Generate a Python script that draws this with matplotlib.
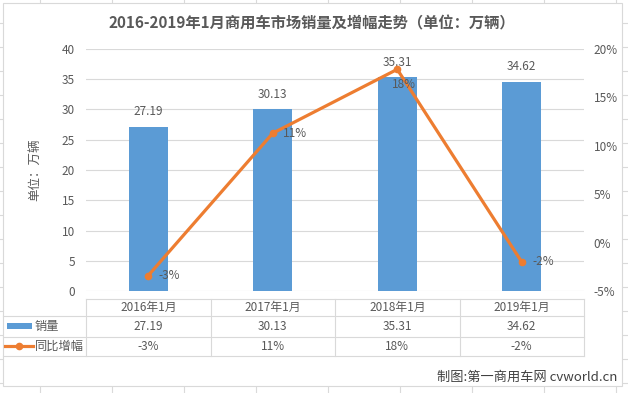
import matplotlib
matplotlib.use("Agg")
import matplotlib.pyplot as plt
from matplotlib.lines import Line2D
from matplotlib.patches import Rectangle
from matplotlib.transforms import blended_transform_factory

plt.rcParams['font.family'] = ['Noto Sans CJK SC', 'DejaVu Sans']

# data
categories = ['2016年1月', '2017年1月', '2018年1月', '2019年1月']
sales = [27.19, 30.13, 35.31, 34.62]
growth = [-3.4, 11.3, 17.9, -2.0]
sales_name = '销量'
growth_name = '同比增幅'
title = '2016-2019年1月商用车市场销量及增幅走势（单位：万辆）'
ylabel = '单位：万辆'
credit = '制图:第一商用车网 cvworld.cn'

W, H = 628, 393
BLUE = '#5B9BD5'
ORANGE = '#ED7D31'
TXT = '#595959'
GRID = '#D9D9D9'
FS = 8.5


def fx(px):
    return px / W


def fy(py):
    return 1 - py / H


fig = plt.figure(figsize=(W / 100, H / 100), dpi=100)

# spreadsheet grid behind the chart
for x in range(40, W, 72):
    fig.add_artist(Line2D([fx(x), fx(x)], [0, 1], color='#DADADA', lw=0.8, zorder=0))
for y in range(23, H, 24):
    fig.add_artist(Line2D([0, 1], [fy(y), fy(y)], color='#DADADA', lw=0.8, zorder=0))
fig.add_artist(Rectangle((fx(3), fy(386)), fx(619), (383) / H, transform=fig.transFigure,
                         facecolor='white', edgecolor=GRID, lw=0.8, zorder=0.5))

ax = fig.add_axes([fx(86), fy(291), fx(498), 242 / H])
ax.set_zorder(2)
ax.patch.set_alpha(0)
xs = list(range(len(categories)))

bars = ax.bar(xs, sales, width=0.31, color=BLUE, zorder=2)
for b, v in zip(bars, sales):
    ax.annotate(f'{v:.2f}', (b.get_x() + b.get_width() / 2, v), xytext=(0, 10.5),
                textcoords='offset points', ha='center', va='center', fontsize=FS, color=TXT)

ax.set_xlim(-0.5, len(categories) - 0.5)
ax.set_ylim(0, 40)
ax.set_yticks(range(0, 41, 5))
ax.set_xticks([])
ax.grid(axis='y', color=GRID, lw=0.8, zorder=0)
ax.set_axisbelow(True)
for s in ax.spines.values():
    s.set_visible(False)
ax.tick_params(axis='y', length=0, pad=8, labelsize=FS, labelcolor=TXT)
ax.set_ylabel(ylabel, fontsize=9, color=TXT, labelpad=15)

ax2 = ax.twinx()
ax2.plot(xs, growth, color=ORANGE, lw=2.3, marker='o', ms=4.5, zorder=3)
ax2.set_ylim(-5, 20)
ax2.set_yticks(range(-5, 21, 5))
ax2.set_yticklabels([f'{t}%' for t in range(-5, 21, 5)])
for s in ax2.spines.values():
    s.set_visible(False)
ax2.tick_params(axis='y', length=0, pad=7, labelsize=FS, labelcolor=TXT)
for i, v in enumerate(growth):
    if v == max(growth):
        off, ha = (5, -11), 'center'
    else:
        off, ha = (7.5, 0), 'left'
    ax2.annotate(f'{v:.0f}%', (i, v), xytext=off, textcoords='offset points',
                 ha=ha, va='center', fontsize=FS, color=TXT)

fig.text(fx(312), fy(23), title, ha='center', va='center', fontsize=11,
         fontweight='bold', color=TXT)

# data table under the plot
tr = blended_transform_factory(ax.transData, fig.transFigure)
edges = [i - 0.5 for i in range(len(categories) + 1)]
rows = [299, 316, 336.5, 356]
fig.add_artist(Line2D([fx(86), fx(584)], [fy(rows[0])] * 2, color=GRID, lw=0.8))
for r in rows[1:]:
    fig.add_artist(Line2D([fx(3), fx(584)], [fy(r)] * 2, color=GRID, lw=0.8))
for e in edges:
    ax.add_artist(Line2D([e, e], [fy(rows[0]), fy(rows[-1])], transform=tr,
                         color=GRID, lw=0.8, clip_on=False))
yc = [(rows[k] + rows[k + 1]) / 2 for k in range(3)]
for i, c in enumerate(categories):
    ax.text(i, fy(yc[0]), c, transform=tr, ha='center', va='center', fontsize=FS, color=TXT)
    ax.text(i, fy(yc[1]), f'{sales[i]:.2f}', transform=tr, ha='center', va='center',
            fontsize=FS, color=TXT)
    ax.text(i, fy(yc[2]), f'{growth[i]:.0f}%', transform=tr, ha='center', va='center',
            fontsize=FS, color=TXT)

fig.add_artist(Rectangle((fx(7), fy(yc[1] + 3)), fx(25), 6 / H, transform=fig.transFigure,
                         facecolor=BLUE, edgecolor='none'))
fig.add_artist(Line2D([fx(5), fx(33)], [fy(yc[2])] * 2, color=ORANGE, lw=2.3))
fig.add_artist(Line2D([fx(19)], [fy(yc[2])], color=ORANGE, marker='o', ms=4.5))
fig.text(fx(35), fy(yc[1]), sales_name, ha='left', va='center', fontsize=8.8, color=TXT)
fig.text(fx(35), fy(yc[2]), growth_name, ha='left', va='center', fontsize=8.8, color=TXT)

fig.text(fx(617), fy(377), credit, ha='right', va='center', fontsize=9.5, color='#404040')

fig.savefig('out.png', dpi=100)
